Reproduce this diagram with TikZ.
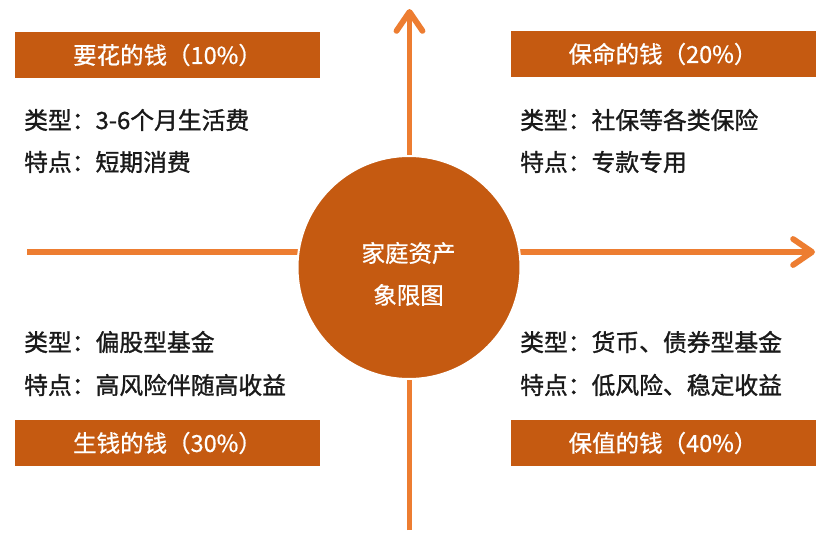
\documentclass[tikz,border=0pt]{standalone}
\usepackage{fontspec}
\setmainfont{Noto Sans CJK SC}
\newfontfamily\bodyfont{Noto Sans CJK SC}[FakeBold=1.2]
\newfontfamily\bannerfont{Noto Sans CJK SC}[FakeBold=0.7]
\usetikzlibrary{arrows.meta}
\definecolor{axisorange}{HTML}{ED7D31}
\definecolor{darkorange}{HTML}{C55A11}
\definecolor{txt}{HTML}{1A1A1A}
\begin{document}
\begin{tikzpicture}[x=1pt,y=-1pt,
  axisline/.style={draw=axisorange,line width=5.8pt,-{Straight Barb[round,length=19pt,width=26pt]}},
  banner/.style={fill=darkorange,draw=none,minimum width=305pt,minimum height=46pt,inner sep=0pt,
     text=white,font=\bannerfont\fontsize{23.5}{26}\selectfont},
  bodytext/.style={anchor=west,inner sep=0pt,text=txt,font=\bodyfont\fontsize{23.8}{26}\selectfont},
  centertext/.style={inner sep=0pt,text=white,font=\bannerfont\fontsize{23.5}{26}\selectfont}]
\useasboundingbox (0,0) rectangle (831,533);
\fill[white] (0,0) rectangle (831,533);
% axes
\coordinate (vbot) at (409.5,530);
\coordinate (vtop) at (409.5,9);
\coordinate (hleft) at (27,252);
\coordinate (hright) at (815,252);
\draw[axisline] (vbot) -- (vtop);
\draw[axisline] (hleft) -- (hright);
% centre circle
\node[circle,fill=darkorange,draw=white,line width=2pt,minimum size=223pt,inner sep=0pt] (hub) at (409,267.5) {};
\node[centertext] (hubt1) at (408.5,253) {家庭资产};
\node[centertext] (hubt2) at (408.5,295) {象限图};
% banners
\node[banner] (b1) at (167.5,55) {要花的钱（10\%）};
\node[banner] (b2) at (663,54) {保命的钱（20\%）};
\node[banner] (b3) at (167.5,443) {生钱的钱（30\%）};
\node[banner] (b4) at (663,443) {保值的钱（40\%）};
% texts
\node[bodytext] (t1a) at (24,120) {类型：3-6个月生活费};
\node[bodytext] (t1b) at (24,162) {特点：短期消费};
\node[bodytext] (t2a) at (520,120) {类型：社保等各类保险};
\node[bodytext] (t2b) at (520,162) {特点：专款专用};
\node[bodytext] (t3a) at (24,342) {类型：偏股型基金};
\node[bodytext] (t3b) at (24,385) {特点：高风险伴随高收益};
\node[bodytext] (t4a) at (520,342) {类型：货币、债券型基金};
\node[bodytext] (t4b) at (520,385) {特点：低风险、稳定收益};
\end{tikzpicture}
\end{document}
